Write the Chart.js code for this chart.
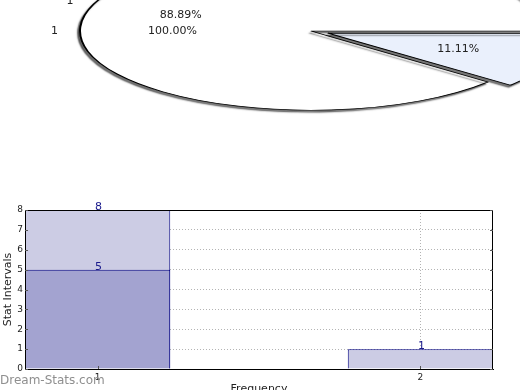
<!DOCTYPE html>
<html>
<head>
<meta charset="utf-8">
<script src="https://cdn.jsdelivr.net/npm/chart.js@4/dist/chart.umd.min.js"></script>
<style>
  html, body { margin: 0; padding: 0; background: #fff; overflow: hidden; }
  #wrap { position: relative; width: 520px; height: 390px; overflow: hidden; }
  canvas { position: absolute; left: 0; top: 0; }
  #mark { position: absolute; left: 0; top: 373px; line-height: 14px; font: 12px 'DejaVu Sans', sans-serif; color: #8f8f8f; }
</style>
</head>
<body>
<div id="wrap">
  <canvas id="bars" width="520" height="400"></canvas>
  <canvas id="pie" width="520" height="200"></canvas>
  <div id="mark">Dream-Stats.com</div>
</div>
<script>
// values
const xValues = [1, 2]
const totals = [8, 1]        // light bars, also the pie slices
const inner = [5, null]      // darker bar drawn over the first one
const xTicks = [1, 2]
const pieLabels = ['1', '2']
const wholeLabels = ['1']    // the single 100% ring, only its labels show
const wholeValues = [1]

const FONT = "'DejaVu Sans', sans-serif"
const SQUASH = 0.343         // pie is drawn flattened
const PIE_Y = 31

const toPoints = vals => xValues.map((x, i) => ({ x, y: vals[i] })).filter(p => p.y !== null)

// bar chart
const frame = {
  id: 'frame',
  afterDraw (chart) {
    const { ctx, chartArea: a, scales } = chart
    ctx.save()
    ctx.strokeStyle = '#000'
    ctx.lineWidth = 1
    ctx.strokeRect(a.left + 0.5, a.top + 0.5, a.right - a.left - 1, a.bottom - a.top)
    // small inner ticks
    ctx.strokeStyle = '#555'
    scales.y.ticks.forEach(t => {
      const y = Math.round(scales.y.getPixelForValue(t.value)) + 0.5
      ctx.beginPath()
      ctx.moveTo(a.left, y); ctx.lineTo(a.left + 3, y)
      ctx.moveTo(a.right - 3, y); ctx.lineTo(a.right, y)
      ctx.stroke()
    })
    scales.x.ticks.forEach(t => {
      const x = Math.round(scales.x.getPixelForValue(t.value)) + 0.5
      ctx.beginPath()
      ctx.moveTo(x, a.bottom); ctx.lineTo(x, a.bottom - 3)
      ctx.stroke()
    })
    ctx.restore()
  }
}

const barValues = {
  id: 'barValues',
  afterDatasetsDraw (chart) {
    const { ctx } = chart
    ctx.save()
    ctx.font = '11px ' + FONT
    ctx.fillStyle = '#1a1a8c'
    ctx.textAlign = 'center'
    ctx.textBaseline = 'alphabetic'
    chart.data.datasets.forEach((ds, di) => {
      chart.getDatasetMeta(di).data.forEach((bar, i) => {
        ctx.fillText(String(ds.data[i].y), bar.x + 1, bar.y)
      })
    })
    ctx.restore()
  }
}

new Chart(document.getElementById('bars'), {
  type: 'bar',
  data: {
    datasets: [
      {
        data: toPoints(inner),
        backgroundColor: '#a3a3d0',
        borderColor: '#000080',
        borderWidth: 1,
        grouped: false,
        order: 1,
      },
      {
        data: toPoints(totals),
        backgroundColor: '#ccccE4',
        borderColor: '#000080',
        borderWidth: 1,
        grouped: false,
        order: 2,
      },
    ]
  },
  options: {
    responsive: false,
    animation: false,
    events: [],
    categoryPercentage: 1,
    barPercentage: 0.45,
    layout: { padding: { top: 210, right: 27, left: 0, bottom: 0 } },
    plugins: { legend: { display: false }, tooltip: { enabled: false } },
    scales: {
      x: {
        type: 'linear',
        min: 0.775,
        max: 2.225,
        offset: false,
        z: 1,
        afterBuildTicks: s => { s.ticks = xTicks.map(v => ({ value: v })) },
        afterFit: s => { s.height = 31 },
        grid: { offset: false, color: '#b4b4b4', drawTicks: false },
        border: { color: '#000', dash: [1, 2] },
        ticks: { font: { size: 9, family: FONT }, color: '#222', padding: 3 },
        title: { display: true, text: 'Frequency', font: { size: 11, family: FONT }, color: '#222', padding: { top: 0, bottom: 4 } },
      },
      y: {
        min: 0,
        max: 8,
        z: 1,
        afterFit: s => { s.width = 25 },
        grid: { color: '#b4b4b4', drawTicks: false },
        border: { color: '#000', dash: [1, 2] },
        ticks: { stepSize: 1, font: { size: 9, family: FONT }, color: '#222', padding: 2 },
        title: { display: true, text: 'Stat Intervals', font: { size: 11, family: FONT }, color: '#222', padding: { top: 2, bottom: 0 } },
      }
    }
  },
  plugins: [barValues, frame]
})

// flattened exploded pie
const flatten = {
  id: 'flatten',
  beforeDatasetsDraw (chart) {
    const arc = chart.getDatasetMeta(0).data[0]
    const { ctx } = chart
    ctx.save()
    ctx.translate(arc.x, PIE_Y)
    ctx.scale(1, SQUASH)
    ctx.translate(-arc.x, -arc.y)
    ctx.shadowColor = 'rgba(0,0,0,0.55)'
    ctx.shadowBlur = 1.5
    ctx.shadowOffsetX = -2
    ctx.shadowOffsetY = 2
  },
  afterDatasetsDraw (chart) {
    chart.ctx.restore()
  }
}

const pieText = {
  id: 'pieText',
  afterDraw (chart) {
    const { ctx } = chart
    const meta = chart.getDatasetMeta(0)
    const vals = chart.data.datasets[0].data
    const sum = vals.reduce((a, b) => a + b, 0)
    const wholeSum = wholeValues.reduce((a, b) => a + b, 0)
    const cx = meta.data[0].x
    const R = meta.data[0].outerRadius
    const at = (ang, dist) => [cx + Math.cos(ang) * dist, PIE_Y + Math.sin(ang) * dist * SQUASH]
    ctx.save()
    ctx.font = '11px ' + FONT
    ctx.fillStyle = '#222'
    ctx.textAlign = 'center'
    ctx.textBaseline = 'middle'
    meta.data.forEach((el, i) => {
      const mid = (el.startAngle + el.endAngle) / 2
      const off = (chart.data.datasets[0].offset[i] || 0) / 4
      let [x, y] = at(mid, R * 0.6 + off)
      ctx.fillText((vals[i] / sum * 100).toFixed(2) + '%', x, y)
      ;[x, y] = at(mid, R * 1.11 + off)
      ctx.fillText(pieLabels[i], x, y)
    })
    wholeValues.forEach((v, i) => {
      let [x, y] = at(Math.PI, R * 0.6)
      ctx.fillText((v / wholeSum * 100).toFixed(2) + '%', x, y)
      ;[x, y] = at(Math.PI, R * 1.11)
      ctx.fillText(wholeLabels[i], x, y)
    })
    ctx.restore()
  }
}

new Chart(document.getElementById('pie'), {
  type: 'pie',
  data: {
    labels: pieLabels,
    datasets: [{
      data: totals,
      backgroundColor: ['#ffffff', '#eaf0fc'],
      borderColor: '#000',
      borderWidth: 2,
      offset: [0, 72],
      clip: false,
    }]
  },
  options: {
    responsive: false,
    animation: false,
    events: [],
    rotation: 130,
    radius: 231,
    layout: { padding: { left: 102, right: 0, top: 0, bottom: 0 } },
    plugins: { legend: { display: false }, tooltip: { enabled: false } },
  },
  plugins: [flatten, pieText]
})
</script>
</body>
</html>
